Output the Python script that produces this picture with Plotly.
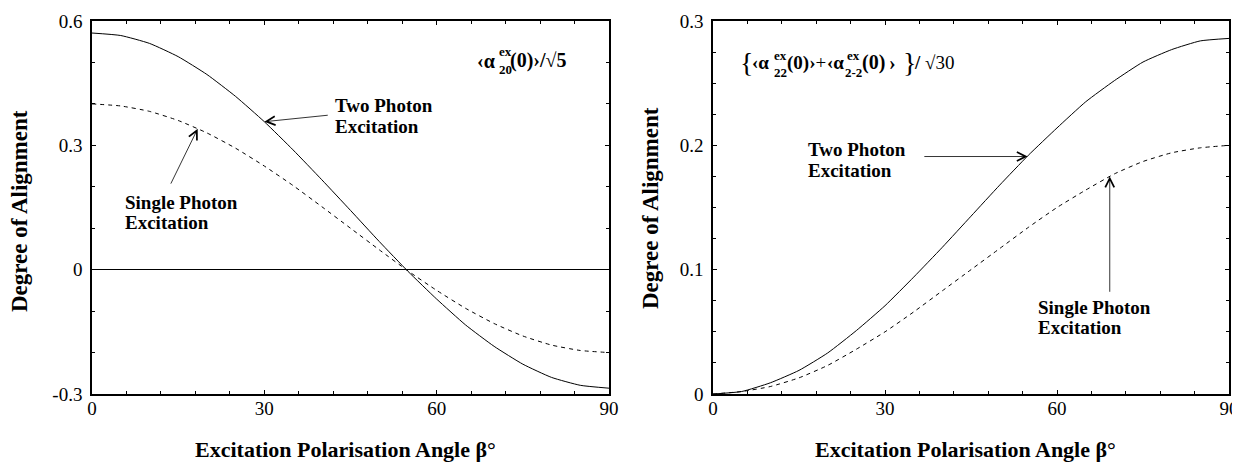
import plotly.graph_objects as go

# --- data ---
angle = [0, 5, 10, 15, 20, 25, 30, 35, 40, 45, 50, 55, 60, 65, 70, 75, 80, 85, 90]

left_two = [0.571, 0.565, 0.546, 0.514, 0.471, 0.418, 0.357, 0.289, 0.217, 0.143,
            0.068, -0.004, -0.071, -0.133, -0.185, -0.228, -0.260, -0.279, -0.286]
left_single = [0.400, 0.395, 0.382, 0.360, 0.330, 0.293, 0.250, 0.203, 0.152, 0.100,
               0.048, -0.003, -0.050, -0.093, -0.130, -0.160, -0.182, -0.195, -0.200]

right_two = [0.000, 0.002, 0.009, 0.019, 0.033, 0.051, 0.071, 0.094, 0.118, 0.143,
             0.168, 0.192, 0.214, 0.235, 0.252, 0.267, 0.277, 0.284, 0.286]
right_single = [0.000, 0.002, 0.006, 0.013, 0.023, 0.036, 0.050, 0.066, 0.083, 0.100,
                0.117, 0.134, 0.150, 0.164, 0.177, 0.187, 0.194, 0.198, 0.200]

x_ticks = [0, 30, 60, 90]
x_ticktext = ["0", "30", "60", "90"]
left_yticks = [-0.3, 0, 0.3, 0.6]
left_yticktext = ["-0.3", "0", "0.3", "0.6"]
right_yticks = [0, 0.1, 0.2, 0.3]
right_yticktext = ["0", "0.1", "0.2", "0.3"]

# page body has an 8px margin: the figure starts at (8, 8) of the window
OFF = 8
W, H = 1232, 456
SERIF = "Liberation Serif"


def px(x):
    return (x - OFF) / W


def py(y):
    return 1 - (y - OFF) / H


fig = go.Figure()
line_solid = dict(color="black", width=1, shape="spline", smoothing=0.5)
line_dash = dict(color="black", width=1, dash="4px,4px", shape="spline", smoothing=0.5)

fig.add_trace(go.Scatter(x=angle, y=left_two, mode="lines", line=line_solid, xaxis="x", yaxis="y"))
fig.add_trace(go.Scatter(x=angle, y=left_single, mode="lines", line=line_dash, xaxis="x", yaxis="y"))
fig.add_trace(go.Scatter(x=angle, y=right_two, mode="lines", line=line_solid, xaxis="x2", yaxis="y2"))
fig.add_trace(go.Scatter(x=angle, y=right_single, mode="lines", line=line_dash, xaxis="x2", yaxis="y2"))

tickfont = dict(family=SERIF, size=19, color="black")
common_x = dict(range=[0, 90], tickvals=x_ticks, ticktext=x_ticktext, ticks="inside", ticklen=4,
                tickcolor="black", showline=True, linecolor="black", linewidth=1.5, mirror="ticks",
                showgrid=False, zeroline=False, tickfont=tickfont, automargin=False,
                ticklabelstandoff=-4,
                minor=dict(dtick=6, ticks="inside", ticklen=3, tickcolor="black"))
common_y = dict(ticks="inside", ticklen=4, tickcolor="black", showline=True, linecolor="black",
                linewidth=1.5, mirror="ticks", showgrid=False, tickfont=tickfont, automargin=False,
                ticklabelstandoff=4)

y0, y1 = py(394), py(21)
fig.update_layout(
    template="none",
    width=W, height=H, margin=dict(l=0, r=0, t=0, b=0, pad=0, autoexpand=False),
    paper_bgcolor="white", plot_bgcolor="white", showlegend=False,
    font=dict(family=SERIF, color="black"),
    xaxis=dict(domain=[px(92), px(609)], anchor="y", **common_x),
    yaxis=dict(domain=[y0, y1], anchor="x", range=[-0.3, 0.6], tickvals=left_yticks,
               ticktext=left_yticktext, zeroline=True, zerolinecolor="black", zerolinewidth=1.2,
               minor=dict(dtick=0.1, tick0=0, ticks="inside", ticklen=3, tickcolor="black"),
               **common_y),
    xaxis2=dict(domain=[px(713), px(1229)], anchor="y2", **common_x),
    yaxis2=dict(domain=[y0, y1], anchor="x2", range=[0, 0.3], tickvals=right_yticks,
                ticktext=right_yticktext, zeroline=False,
                minor=dict(dtick=0.025, tick0=0, ticks="inside", ticklen=3, tickcolor="black"),
                **common_y),
)

ann = []


def text_at(text, x, y, size, xanchor="left", angle=0):
    ann.append(dict(text=text, x=px(x), y=py(y), xref="paper", yref="paper", showarrow=False,
                    font=dict(family=SERIF, size=size, color="black"), xanchor=xanchor,
                    yanchor="middle", textangle=angle))


# axis titles
for cx in (345, 965):
    text_at("<b>Excitation Polarisation Angle β°</b>", cx, 449, 22, xanchor="center")
text_at("<b>Degree of Alignment</b>", 19, 211, 23, xanchor="center", angle=-90)
text_at("<b>Degree of Alignment</b>", 650, 208, 23, xanchor="center", angle=-90)

# curve labels (one annotation per line to keep the tight line spacing)
LS = 19
text_at("<b>Two Photon</b>", 333, 105, LS)
text_at("<b>Excitation</b>", 333, 126, LS)
text_at("<b>Single Photon</b>", 123, 202, LS)
text_at("<b>Excitation</b>", 123, 222, LS)
text_at("<b>Two Photon</b>", 806, 149, LS)
text_at("<b>Excitation</b>", 806, 170, LS)
text_at("<b>Single Photon</b>", 1036, 307, LS)
text_at("<b>Excitation</b>", 1036, 327, LS)


def arrow(xr, yr, hx, hy, tx, ty):
    ann.append(dict(text="", x=hx, y=hy, ax=tx, ay=ty, xref=xr, yref=yr,
                    axref=xr, ayref=yr, showarrow=True, arrowhead=5, arrowsize=2.2,
                    arrowwidth=0.8, arrowcolor="black", standoff=0))


arrow("x", "y", 30, 0.357, 41.3, 0.373)
arrow("x", "y", 18.4, 0.340, 13.6, 0.204)
arrow("x2", "y2", 54.9, 0.191, 36.6, 0.191)
arrow("x2", "y2", 69.2, 0.175, 69.2, 0.081)

# left formula  <α^ex_20(0)>/√5
text_at("<b>‹α</b>", 475, 61, 20)
text_at("<b>ex</b>", 497, 52, 13)
text_at("<b>20</b>", 497, 69, 13)
text_at("<b>(0)›/√5</b>", 508, 61, 20)

# right formula  { <α^ex_22(0)> + <α^ex_2-2(0)> } / √30
text_at("{", 738, 62, 28)
text_at("<b>‹α</b>", 750, 63, 19)
text_at("<b>ex</b>", 772, 55, 13)
text_at("<b>22</b>", 772, 72, 13)
text_at("<b>(0)›</b>+", 785, 63, 19)
text_at("<b>‹α</b>", 825, 63, 19)
text_at("<b>ex</b>", 845, 55, 13)
text_at("<b>2-2</b>", 843, 72, 13)
text_at("<b>(0)</b>", 860, 63, 20)
text_at("<b>›</b>", 887, 63, 20)
text_at("}", 901, 62, 28)
text_at("<b>/</b> √30", 912, 63, 19)

fig.update_layout(annotations=ann)
fig.write_html("out.html")
